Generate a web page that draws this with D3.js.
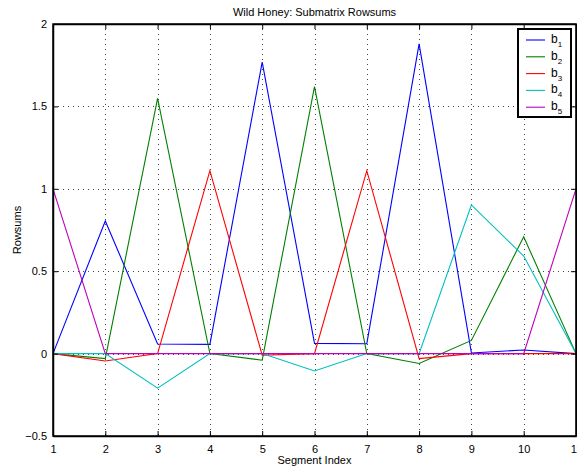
<!DOCTYPE html>
<html>
<head>
<meta charset="utf-8">
<script src="https://cdn.jsdelivr.net/npm/d3@7/dist/d3.min.js"></script>
<style>
body { margin: 0; background: #fff; }
text { font-family: "Liberation Sans", Arial, Helvetica, sans-serif; fill: #000; }
</style>
</head>
<body>
<div id="c"></div>
<script>
var segments = [1, 2, 3, 4, 5, 6, 7, 8, 9, 10, 11];
var b1 = [0, 0.805, 0.058, 0.056, 1.769, 0.062, 0.06, 1.879, 0.004, 0.022, 0];
var b2 = [0, -0.03, 1.549, 0, -0.04, 1.62, 0, -0.06, 0.08, 0.709, 0];
var b3 = [0, -0.045, 0, 1.11, -0.01, 0, 1.11, -0.03, 0, 0, 0];
var b4 = [0, 0, -0.21, 0, 0, -0.105, 0, 0, 0.902, 0.592, 0];
var b5 = [1, 0, 0, 0, 0, 0, 0, 0, 0, 0, 1];
var seriesNames = ['1', '2', '3', '4', '5'];
var seriesColors = ['#0000ff', '#008000', '#ff0000', '#00bfbf', '#bf00bf'];
var yTicks = [-0.5, 0, 0.5, 1, 1.5, 2];

var series = [b1, b2, b3, b4, b5];

var width = 577;
var height = 470;
var m_left = 53, m_right = 576, m_top = 24, m_bottom = 436;

var svg = d3.select("#c").append("svg")
	.attr("width", width)
	.attr("height", height);

var x = d3.scaleLinear().domain([1, 11]).range([m_left, m_right]);
var y = d3.scaleLinear().domain([-0.5, 2]).range([m_bottom, m_top]);

// grid
svg.append("g").selectAll("line")
	.data(segments.slice(1, -1))
	.enter().append("line")
	.attr("x1", function(d) { return Math.round(x(d)) + 0.5; })
	.attr("x2", function(d) { return Math.round(x(d)) + 0.5; })
	.attr("y1", m_top).attr("y2", m_bottom)
	.attr("stroke", "#444").attr("stroke-width", 1)
	.attr("stroke-dasharray", "1,4");

svg.append("g").selectAll("line")
	.data(yTicks.slice(1, -1))
	.enter().append("line")
	.attr("y1", function(d) { return Math.round(y(d)) + 0.5; })
	.attr("y2", function(d) { return Math.round(y(d)) + 0.5; })
	.attr("x1", m_left).attr("x2", m_right)
	.attr("stroke", "#444").attr("stroke-width", 1)
	.attr("stroke-dasharray", "1,4");

// lines
var line = d3.line()
	.x(function(d, i) { return x(segments[i]); })
	.y(function(d) { return y(d); });

svg.append("g").selectAll("path")
	.data(series)
	.enter().append("path")
	.attr("d", line)
	.attr("fill", "none")
	.attr("stroke", function(d, i) { return seriesColors[i]; })
	.attr("stroke-width", 1.1);

// axes, MATLAB style ticks inside
var tk = 5;
svg.append("g")
	.attr("transform", "translate(0," + m_bottom + ")")
	.call(d3.axisBottom(x).tickValues(segments).tickSizeInner(-tk).tickSizeOuter(0).tickPadding(9).tickFormat(d3.format("d")));
svg.append("g")
	.attr("transform", "translate(0," + m_top + ")")
	.call(d3.axisTop(x).tickValues(segments).tickSizeInner(-tk).tickSizeOuter(0).tickFormat(""));
svg.append("g")
	.attr("transform", "translate(" + m_left + ",0)")
	.call(d3.axisLeft(y).tickValues(yTicks).tickSizeInner(-tk).tickSizeOuter(0).tickPadding(6)
		.tickFormat(function(d) { return d < 0 ? "\u22120.5" : d3.format("")(d); }));
svg.append("g")
	.attr("transform", "translate(" + m_right + ",0)")
	.call(d3.axisRight(y).tickValues(yTicks).tickSizeInner(-tk).tickSizeOuter(0).tickFormat(""));

svg.selectAll(".domain").attr("stroke", "#000").attr("stroke-width", 1.5);
svg.selectAll(".tick line").attr("stroke", "#000");
svg.selectAll(".tick text").style("font-size", "11px").attr("fill", "#000");

// box
svg.append("rect")
	.attr("x", m_left).attr("y", m_top)
	.attr("width", m_right - m_left).attr("height", m_bottom - m_top)
	.attr("fill", "none").attr("stroke", "#000").attr("stroke-width", 1.5);

// titles
svg.append("text")
	.attr("x", (m_left + m_right) / 2).attr("y", 16)
	.attr("text-anchor", "middle").style("font-size", "11px")
	.text("Wild Honey: Submatrix Rowsums");
svg.append("text")
	.attr("x", (m_left + m_right) / 2).attr("y", 464)
	.attr("text-anchor", "middle").style("font-size", "11px")
	.text("Segment Index");
svg.append("text")
	.attr("transform", "translate(21," + ((m_top + m_bottom) / 2) + ") rotate(-90)")
	.attr("text-anchor", "middle").style("font-size", "11px")
	.text("Rowsums");

// legend
var lg = svg.append("g");
lg.append("rect")
	.attr("x", 518).attr("y", 29).attr("width", 53).attr("height", 88)
	.attr("fill", "#fff").attr("stroke", "#000").attr("stroke-width", 2);
var item = lg.selectAll(".item")
	.data(seriesNames)
	.enter().append("g")
	.attr("class", "item")
	.attr("transform", function(d, i) { return "translate(0," + (40 + i * 16.8) + ")"; });
item.append("line")
	.attr("x1", 526).attr("x2", 545)
	.attr("stroke", function(d, i) { return seriesColors[i]; })
	.attr("stroke-width", 1.1);
var lt = item.append("text")
	.attr("x", 551).attr("y", 3)
	.attr("fill", "#000")
	.style("font-size", "12px");
lt.append("tspan").attr("fill", "#000").text("b");
lt.append("tspan").attr("fill", "#000").attr("dy", 4).style("font-size", "8px").text(function(d) { return d; });
</script>
</body>
</html>
